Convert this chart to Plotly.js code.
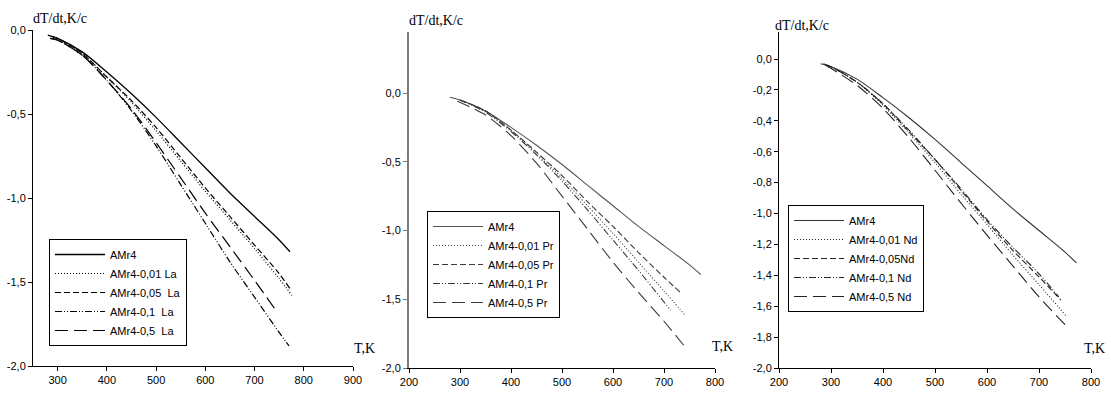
<!DOCTYPE html>
<html>
<head>
<meta charset="utf-8">
<script src="https://cdn.plot.ly/plotly-3.0.1.min.js"></script>
<style>html,body{margin:0;padding:0;background:#fff}#chart{width:1111px;height:394px}</style>
</head>
<body>
<div id="chart"></div>
<script>
// ---- data ----
const T_AMr4 = [280, 300, 350, 400, 450, 500, 550, 600, 650, 700, 750, 772];
const dT_AMr4 = [-0.03, -0.05, -0.13, -0.25, -0.38, -0.52, -0.67, -0.82, -0.97, -1.11, -1.25, -1.32];

const T_La001 = [290, 300, 350, 400, 450, 500, 550, 600, 650, 700, 750, 776];
const dT_La001 = [-0.04, -0.05, -0.14, -0.28, -0.43, -0.60, -0.78, -0.96, -1.13, -1.30, -1.48, -1.58];
const T_La005 = [290, 300, 350, 400, 450, 500, 550, 600, 650, 700, 750, 772];
const dT_La005 = [-0.04, -0.05, -0.14, -0.28, -0.42, -0.58, -0.76, -0.94, -1.11, -1.28, -1.45, -1.54];
const T_La01 = [285, 300, 350, 400, 450, 500, 550, 600, 650, 700, 750, 770];
const dT_La01 = [-0.05, -0.06, -0.15, -0.30, -0.48, -0.69, -0.92, -1.15, -1.38, -1.59, -1.80, -1.88];
const T_La05 = [285, 300, 350, 400, 450, 500, 550, 600, 650, 700, 746];
const dT_La05 = [-0.05, -0.06, -0.15, -0.30, -0.47, -0.67, -0.88, -1.09, -1.29, -1.49, -1.68];

const T_Pr001 = [300, 350, 400, 450, 500, 550, 600, 650, 700, 740];
const dT_Pr001 = [-0.05, -0.13, -0.27, -0.44, -0.62, -0.82, -1.02, -1.23, -1.44, -1.61];
const T_Pr005 = [300, 350, 400, 450, 500, 550, 600, 650, 700, 732];
const dT_Pr005 = [-0.05, -0.13, -0.27, -0.43, -0.60, -0.79, -0.97, -1.16, -1.34, -1.45];
const T_Pr01 = [300, 350, 400, 450, 500, 550, 600, 650, 713];
const dT_Pr01 = [-0.05, -0.14, -0.28, -0.45, -0.64, -0.85, -1.07, -1.29, -1.58];
const T_Pr05 = [295, 350, 400, 450, 500, 550, 600, 650, 700, 742];
const dT_Pr05 = [-0.06, -0.16, -0.31, -0.51, -0.75, -0.99, -1.23, -1.45, -1.66, -1.85];

const T_Nd001 = [290, 300, 350, 400, 450, 500, 554, 600, 650, 700, 754];
const dT_Nd001 = [-0.04, -0.05, -0.15, -0.30, -0.48, -0.67, -0.89, -1.07, -1.27, -1.46, -1.67];
const T_Nd005 = [290, 300, 350, 400, 450, 500, 550, 600, 650, 700, 742];
const dT_Nd005 = [-0.04, -0.05, -0.15, -0.29, -0.47, -0.65, -0.85, -1.05, -1.24, -1.41, -1.56];
const T_Nd01 = [285, 300, 350, 400, 450, 500, 550, 600, 650, 700, 738];
const dT_Nd01 = [-0.03, -0.05, -0.15, -0.29, -0.46, -0.65, -0.84, -1.04, -1.22, -1.39, -1.54];
const T_Nd05 = [290, 300, 350, 400, 450, 500, 535, 600, 650, 700, 756];
const dT_Nd05 = [-0.04, -0.06, -0.17, -0.32, -0.51, -0.72, -0.87, -1.14, -1.34, -1.54, -1.74];

const names1 = ['AMr4', 'AMr4-0,01 La', 'AMr4-0,05  La', 'AMr4-0,1  La', 'AMr4-0,5  La'];
const names2 = ['AMr4', 'AMr4-0,01 Pr', 'AMr4-0,05 Pr', 'AMr4-0,1 Pr', 'AMr4-0,5 Pr'];
const names3 = ['AMr4', 'AMr4-0,01 Nd', 'AMr4-0,05Nd', 'AMr4-0,1 Nd', 'AMr4-0,5 Nd'];

const xTicks1 = [300, 400, 500, 600, 700, 800, 900];
const xTicks23 = [200, 300, 400, 500, 600, 700, 800];
const yTicks12 = [0, -0.5, -1.0, -1.5, -2.0];
const yTickText12 = ['0,0', '-0,5', '-1,0', '-1,5', '-2,0'];
const yTicks3 = [0, -0.2, -0.4, -0.6, -0.8, -1.0, -1.2, -1.4, -1.6, -1.8, -2.0];
const yTickText3 = ['0,0', '-0,2', '-0,4', '-0,6', '-0,8', '-1,0', '-1,2', '-1,4', '-1,6', '-1,8', '-2,0'];
const yTitle = 'dT/dt,K/c';
const xTitle = 'T,K';

// ---- styles ----
const dashes = ['solid', '1px,2px', '6px,3px', '7px,2px,1px,2px,1px,2px', '13px,6px'];
const W = 1111, H = 394;
const px = v => v / W, py = v => 1 - v / H;

function mk(xs, ys, name, i, ax, lg, color, w) {
  return {x: xs, y: ys, name: name, type: 'scatter', mode: 'lines',
    xaxis: 'x' + ax, yaxis: 'y' + ax, legend: lg,
    line: {color: color, width: w, dash: dashes[i], shape: 'spline', smoothing: 0.8}};
}
const c1 = '#000', c2 = '#3a3a3a', c3 = '#222';
const traces = [
  mk(T_AMr4, dT_AMr4, names1[0], 0, '', 'legend', c1, 1.3),
  mk(T_La001, dT_La001, names1[1], 1, '', 'legend', c1, 1.2),
  mk(T_La005, dT_La005, names1[2], 2, '', 'legend', c1, 1.2),
  mk(T_La01, dT_La01, names1[3], 3, '', 'legend', c1, 1.2),
  mk(T_La05, dT_La05, names1[4], 4, '', 'legend', c1, 1.2),
  mk(T_AMr4, dT_AMr4, names2[0], 0, '2', 'legend2', '#555', 1.1),
  mk(T_Pr001, dT_Pr001, names2[1], 1, '2', 'legend2', c2, 1.1),
  mk(T_Pr005, dT_Pr005, names2[2], 2, '2', 'legend2', c2, 1.1),
  mk(T_Pr01, dT_Pr01, names2[3], 3, '2', 'legend2', c2, 1.1),
  mk(T_Pr05, dT_Pr05, names2[4], 4, '2', 'legend2', c2, 1.1),
  mk(T_AMr4, dT_AMr4, names3[0], 0, '3', 'legend3', '#333', 1.1),
  mk(T_Nd001, dT_Nd001, names3[1], 1, '3', 'legend3', c3, 1.1),
  mk(T_Nd005, dT_Nd005, names3[2], 2, '3', 'legend3', c3, 1.1),
  mk(T_Nd01, dT_Nd01, names3[3], 3, '3', 'legend3', c3, 1.1),
  mk(T_Nd05, dT_Nd05, names3[4], 4, '3', 'legend3', c3, 1.1)
];

const tickFont = {family: 'Liberation Sans Narrow, Arial Narrow, Liberation Sans, sans-serif', size: 11, color: '#000'};
function xax(dom, range, vals, anchor, lc, lw) {
  return {domain: dom, range: range, anchor: anchor, showgrid: false, zeroline: false,
    showline: true, linecolor: lc || '#000', linewidth: lw || 1, ticks: 'outside', ticklen: 4,
    tickcolor: lc || '#000', tickvals: vals, ticktext: vals.map(String), tickfont: tickFont, fixedrange: true};
}
function yax(dom, range, vals, text, anchor, lc, lw) {
  return {domain: dom, range: range, anchor: anchor, showgrid: false, zeroline: false,
    showline: true, linecolor: lc || '#000', linewidth: lw || 1, ticks: 'outside', ticklen: 4,
    tickcolor: lc || '#000', tickvals: vals, ticktext: text, tickfont: tickFont, fixedrange: true};
}
const legendBase = {bgcolor: '#fff', bordercolor: '#000', borderwidth: 1, xanchor: 'left', yanchor: 'top',
  font: {family: 'Liberation Sans Narrow, Arial Narrow, Liberation Sans, sans-serif', size: 11, color: '#000'},
  itemwidth: 50, tracegroupgap: 0, traceorder: 'normal'};
const serif = {family: 'Liberation Serif, Times New Roman, serif', size: 14, color: '#000'};
function ann(text, x, y) {
  return {text: text, x: px(x), y: py(y), xref: 'paper', yref: 'paper', showarrow: false,
    xanchor: 'center', yanchor: 'middle', font: serif};
}

const layout = {
  width: W, height: H, margin: {l: 0, r: 0, t: 0, b: 0},
  paper_bgcolor: '#fff', plot_bgcolor: '#fff', showlegend: true,
  xaxis: xax([px(33), px(353)], [250, 900], xTicks1, 'y'),
  yaxis: yax([py(366), py(30)], [-2, 0], yTicks12, yTickText12, 'x'),
  xaxis2: xax([px(409), px(715)], [200, 800], xTicks23, 'y2'),
  yaxis2: yax([py(368), py(32)], [-2, 0.444], yTicks12, yTickText12, 'x2', '#7a7a7a', 2),
  xaxis3: xax([px(779), px(1091)], [200, 800], xTicks23, 'y3'),
  yaxis3: yax([py(368), py(32)], [-2, 0.175], yTicks3, yTickText3, 'x3'),
  legend: Object.assign({}, legendBase, {x: px(49), y: py(239)}),
  legend2: Object.assign({}, legendBase, {x: px(427), y: py(211)}),
  legend3: Object.assign({}, legendBase, {x: px(788), y: py(205)}),
  annotations: [
    ann(yTitle, 60, 19), ann(yTitle, 436, 21), ann(yTitle, 802, 25),
    ann(xTitle, 364, 348), ann(xTitle, 722, 346), ann(xTitle, 1094, 348)
  ]
};
Plotly.newPlot('chart', traces, layout, {staticPlot: true, displayModeBar: false});
</script>
</body>
</html>
